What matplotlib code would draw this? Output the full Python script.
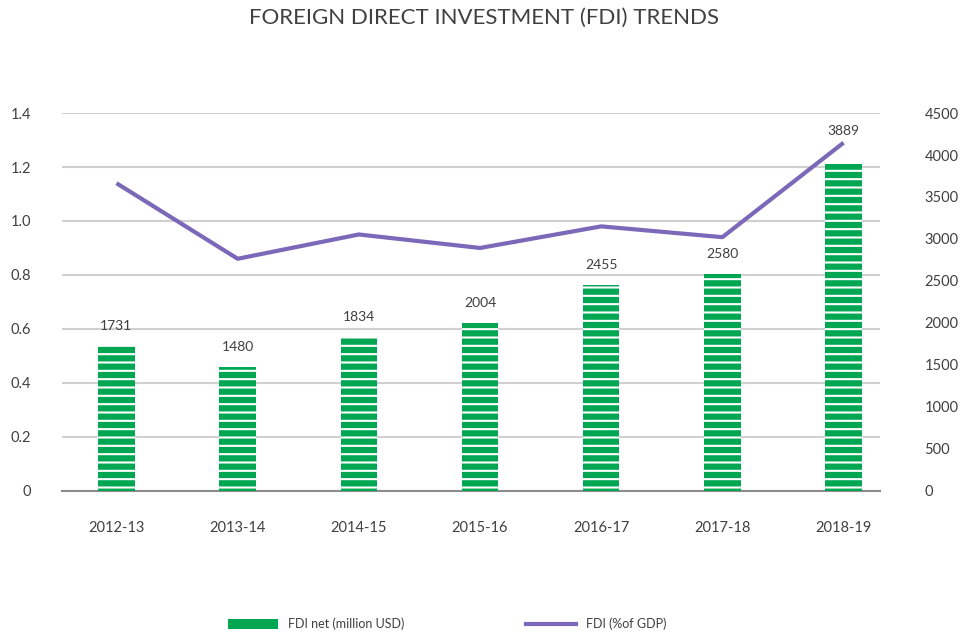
import matplotlib.pyplot as plt
from matplotlib.patches import Patch
from matplotlib.lines import Line2D

plt.rcParams['font.family'] = ['Lato', 'DejaVu Sans']
plt.rcParams['hatch.linewidth'] = 1.5

years = ["2012-13", "2013-14", "2014-15", "2015-16", "2016-17", "2017-18", "2018-19"]
fdi_net = [1731, 1480, 1834, 2004, 2455, 2580, 3889]
fdi_gdp = [1.14, 0.86, 0.95, 0.90, 0.98, 0.94, 1.29]

text_col = "#404040"
green = "#00a651"
purple = "#7b68b8"

fig = plt.figure(figsize=(9.68, 6.35), dpi=100)
ax = fig.add_axes([0.064, 0.227, 0.845, 0.595])
ax2 = ax.twinx()

x = list(range(len(years)))

# gridlines from the left axis
ax.set_ylim(0, 1.4)
ax.set_yticks([0, 0.2, 0.4, 0.6, 0.8, 1.0, 1.2, 1.4])
ax.set_yticklabels(["0", "0.2", "0.4", "0.6", "0.8", "1.0", "1.2", "1.4"])
ax.grid(axis="y", color="#d0d0d0", linewidth=1.5)
ax.set_axisbelow(True)

# bars on the right axis
ax2.bar(x, fdi_net, width=0.3, color=green, edgecolor="white", hatch="--", linewidth=0, zorder=2)
ax2.set_ylim(0, 4500)
ax2.set_yticks(range(0, 4501, 500))
for i, v in enumerate(fdi_net):
    off = 20 if i == len(fdi_net) - 1 else 10
    ax2.annotate(str(v), (i, v), xytext=(0, off), textcoords="offset points",
                 ha="center", va="bottom", fontsize=10, color=text_col)

# line on top, plotted against left axis scale
ax3 = ax.twinx()
ax3.set_ylim(0, 1.4)
ax3.plot(x, fdi_gdp, color=purple, linewidth=3, solid_capstyle="butt", zorder=3)
ax3.set_yticks([])
for s in ax3.spines.values():
    s.set_visible(False)

ax.set_xlim(-0.45, 6.3)
ax.set_xticks(x)
ax.set_xticklabels(years)

for a in (ax, ax2):
    for s in a.spines.values():
        s.set_visible(False)
ax.spines["bottom"].set_visible(True)
ax.spines["bottom"].set_color("#8c8c8c")
ax.spines["bottom"].set_linewidth(1.5)
ax.spines["bottom"].set_zorder(5)

ax.tick_params(axis="y", length=0, pad=22, labelsize=10.5, labelcolor=text_col)
ax.tick_params(axis="x", length=0, pad=22, labelsize=10.5, labelcolor=text_col)
ax2.tick_params(axis="y", length=0, pad=32, labelsize=10.5, labelcolor=text_col)

fig.text(0.5, 0.972, "FOREIGN DIRECT INVESTMENT (FDI) TRENDS", ha="center", va="center",
         fontsize=16, color=text_col)

handles = [Patch(facecolor=green, edgecolor="none"),
           Line2D([0], [0], color=purple, linewidth=3)]
fig.legend(handles, ["FDI net (million USD)", "FDI (%of GDP)"], loc="center",
           bbox_to_anchor=(0.462, 0.017), ncol=2, frameon=False, fontsize=9,
           labelcolor=text_col, handlelength=4, handleheight=0.9, columnspacing=9.8)

fig.savefig("out.png", dpi=100)
